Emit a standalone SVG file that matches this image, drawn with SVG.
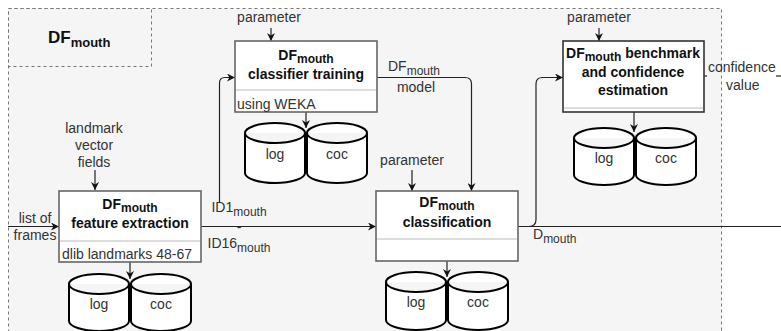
<svg xmlns="http://www.w3.org/2000/svg" width="781" height="331" viewBox="0 0 781 331">
  <style>
    .frame { fill: #f5f5f5; stroke: #777; stroke-width: 1; stroke-dasharray: 3 3; }
    .titlebox { fill: none; stroke: #777; stroke-width: 1; stroke-dasharray: 3 3; }
    .box { fill: #ffffff; stroke: #666; stroke-width: 1.6; }
    .box-dark { fill: #ffffff; stroke: #333; stroke-width: 1.6; }
    .divider { stroke: #bbb; stroke-width: 1.2; fill: none; }
    .cyl { fill: #ffffff; stroke: #000; stroke-width: 2; }
    .edge { fill: none; stroke: #222; stroke-width: 1.2; }
    .t { font-family: "Liberation Sans", Arial, sans-serif; font-size: 14px; fill: #333; }
    .b { font-family: "Liberation Sans", Arial, sans-serif; font-size: 14px; font-weight: bold; fill: #111; }
    .c { text-anchor: middle; }
    .sub { font-size: 12px; }
  </style>
  <defs>
    <marker id="arrow" viewBox="0 0 10 10" refX="10" refY="5" markerWidth="8" markerHeight="8" markerUnits="userSpaceOnUse" orient="auto">
      <path d="M0,0 L10,5 L0,10 L3,5 Z" fill="#111"/>
    </marker>
  </defs>

  <!-- enclosing DF_mouth frame -->
  <g id="frame">
    <rect class="frame" x="8.5" y="8.5" width="713" height="340"/>
    <rect class="titlebox" x="8.5" y="8.5" width="143" height="58"/>
    <text x="48" y="43" font-family="Liberation Sans, Arial, sans-serif" font-weight="bold" font-size="17" fill="#111">DF<tspan dy="4" font-size="13">mouth</tspan></text>
  </g>

  <!-- connectors -->
  <g id="connectors">
    <!-- list of frames into feature extraction -->
    <line class="edge" x1="8" y1="226.5" x2="59" y2="226.5" marker-end="url(#arrow)"/>
    <!-- landmark vector fields -->
    <line class="edge" x1="95" y1="170" x2="95" y2="190" marker-end="url(#arrow)"/>
    <!-- feature extraction to classification -->
    <line class="edge" x1="201" y1="226.5" x2="376" y2="226.5" marker-end="url(#arrow)"/>
    <!-- feature extraction to classifier training -->
    <path class="edge" d="M219.5,202 V83 Q219.5,77.5 225,77.5 H235" marker-end="url(#arrow)"/>
    <!-- parameters -->
    <line class="edge" x1="271" y1="28" x2="271" y2="41" marker-end="url(#arrow)"/>
    <line class="edge" x1="599" y1="28" x2="599" y2="41" marker-end="url(#arrow)"/>
    <line class="edge" x1="412" y1="170" x2="412" y2="191" marker-end="url(#arrow)"/>
    <!-- trained model into classification -->
    <path class="edge" d="M377,77.5 H465 Q471.5,77.5 471.5,84 V191" marker-end="url(#arrow)"/>
    <!-- classification output -->
    <line class="edge" x1="518" y1="226.5" x2="781" y2="226.5"/>
    <path class="edge" d="M518,226.5 H529 Q536,226.5 536,219.5 V84 Q536,77.5 542.5,77.5 H563" marker-end="url(#arrow)"/>
    <!-- confidence value output -->
    <line class="edge" x1="704" y1="76" x2="707" y2="76"/>
    <line class="edge" x1="776" y1="76" x2="781" y2="76"/>
    <!-- writes to log / coc stores -->
    <line class="edge" x1="306" y1="112" x2="306" y2="128" marker-end="url(#arrow)"/>
    <line class="edge" x1="634" y1="112" x2="634" y2="132" marker-end="url(#arrow)"/>
    <line class="edge" x1="130" y1="262" x2="130" y2="279" marker-end="url(#arrow)"/>
    <line class="edge" x1="447" y1="261" x2="447" y2="277" marker-end="url(#arrow)"/>
  </g>

  <!-- connector labels -->
  <g id="edge-labels">
    <text class="t c" x="35" y="223">list of</text>
    <text class="t c" x="35" y="240">frames</text>
    <text class="t c" x="94" y="133">landmark</text>
    <text class="t c" x="94" y="150">vector</text>
    <text class="t c" x="94" y="167">fields</text>
    <text class="t c" x="269" y="22">parameter</text>
    <text class="t c" x="599" y="22">parameter</text>
    <text class="t c" x="412" y="165">parameter</text>
    <text class="t c" x="239" y="212">ID1<tspan class="sub" dy="4">mouth</tspan></text>
    <text class="t c" x="239" y="232">-</text>
    <text class="t c" x="239" y="248">ID16<tspan class="sub" dy="4">mouth</tspan></text>
    <text class="t c" x="414" y="71">DF<tspan class="sub" dy="4">mouth</tspan></text>
    <text class="t c" x="416" y="92">model</text>
    <text class="t" x="533" y="239">D<tspan class="sub" dy="4">mouth</tspan></text>
    <text class="t" x="708" y="72">confidence</text>
    <text class="t" x="726" y="90">value</text>
  </g>

  <!-- classifier training -->
  <g id="classifier-training">
    <rect class="box" x="235" y="41" width="142" height="71"/>
    <line class="divider" x1="236" y1="90" x2="376" y2="90"/>
    <text class="b c" x="306" y="60">DF<tspan class="sub" dy="3">mouth</tspan></text>
    <text class="b c" x="306" y="79">classifier training</text>
    <text class="t" x="237" y="109">using WEKA</text>
  </g>
  <g id="training-log">
    <path class="cyl" d="M245,133 a30,10 0 0 1 60,0 v40 a30,10 0 0 1 -60,0 Z M245,133 a30,10 0 0 0 60,0"/>
    <text class="t c" x="275" y="159">log</text>
  </g>
  <g id="training-coc">
    <path class="cyl" d="M307,133 a30,10 0 0 1 60,0 v40 a30,10 0 0 1 -60,0 Z M307,133 a30,10 0 0 0 60,0"/>
    <text class="t c" x="337" y="159">coc</text>
  </g>

  <!-- benchmark and confidence estimation -->
  <g id="benchmark">
    <rect class="box-dark" x="563" y="41" width="141" height="71"/>
    <line class="divider" x1="564" y1="108" x2="703" y2="108"/>
    <text class="b c" x="633" y="58">DF<tspan class="sub" dy="3">mouth</tspan><tspan dy="-3"> benchmark</tspan></text>
    <text class="b c" x="633" y="77">and confidence</text>
    <text class="b c" x="633" y="95">estimation</text>
  </g>
  <g id="benchmark-log">
    <path class="cyl" d="M574,138 a30,10 0 0 1 60,0 v37 a30,10 0 0 1 -60,0 Z M574,138 a30,10 0 0 0 60,0"/>
    <text class="t c" x="604" y="163">log</text>
  </g>
  <g id="benchmark-coc">
    <path class="cyl" d="M636,138 a30,10 0 0 1 60,0 v37 a30,10 0 0 1 -60,0 Z M636,138 a30,10 0 0 0 60,0"/>
    <text class="t c" x="666" y="163">coc</text>
  </g>

  <!-- feature extraction -->
  <g id="feature-extraction">
    <rect class="box" x="59" y="191" width="142" height="71"/>
    <line class="divider" x1="60" y1="241" x2="200" y2="241"/>
    <text class="b c" x="130" y="209">DF<tspan class="sub" dy="3">mouth</tspan></text>
    <text class="b c" x="130" y="228">feature extraction</text>
    <text class="t" x="62" y="259">dlib landmarks 48-67</text>
  </g>
  <g id="feature-log">
    <path class="cyl" d="M69,284 a30,10 0 0 1 60,0 v37 a30,10 0 0 1 -60,0 Z M69,284 a30,10 0 0 0 60,0"/>
    <text class="t c" x="99" y="309">log</text>
  </g>
  <g id="feature-coc">
    <path class="cyl" d="M131,284 a30,10 0 0 1 60,0 v37 a30,10 0 0 1 -60,0 Z M131,284 a30,10 0 0 0 60,0"/>
    <text class="t c" x="161" y="309">coc</text>
  </g>

  <!-- classification -->
  <g id="classification">
    <rect class="box" x="376" y="191" width="142" height="70"/>
    <line class="divider" x1="377" y1="239" x2="517" y2="239"/>
    <text class="b c" x="447" y="207">DF<tspan class="sub" dy="3">mouth</tspan></text>
    <text class="b c" x="447" y="227">classification</text>
  </g>
  <g id="classification-log">
    <path class="cyl" d="M386,282 a30,10 0 0 1 60,0 v38 a30,10 0 0 1 -60,0 Z M386,282 a30,10 0 0 0 60,0"/>
    <text class="t c" x="416" y="307">log</text>
  </g>
  <g id="classification-coc">
    <path class="cyl" d="M448,282 a30,10 0 0 1 60,0 v38 a30,10 0 0 1 -60,0 Z M448,282 a30,10 0 0 0 60,0"/>
    <text class="t c" x="478" y="307">coc</text>
  </g>
</svg>
